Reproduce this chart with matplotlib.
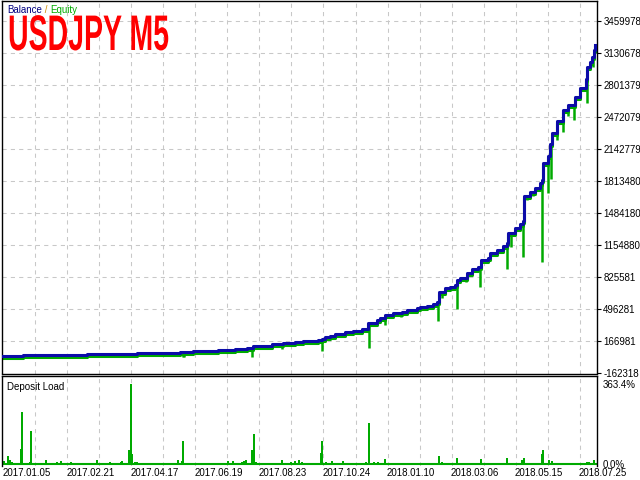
import numpy as np
import matplotlib
matplotlib.use('Agg')
import matplotlib.pyplot as plt
from matplotlib import patheffects
from matplotlib.transforms import Affine2D, offset_copy

# balance curve: trade index -> balance
bal_idx = [1, 21, 85, 135, 178, 191, 216, 233, 245, 251, 270, 281, 293, 301, 316, 320,
           323, 328, 333, 343, 351, 360, 366, 375, 378, 383, 391, 400, 405, 415, 418, 425,
           431, 435, 437, 443, 448, 453, 455, 458, 465, 470, 476, 479, 486, 488, 495, 501,
           505, 506, 513, 518, 521, 522, 528, 533, 538, 540, 541, 546, 548, 550, 555, 561,
           566, 573, 578, 584, 585, 588, 590, 592, 593]
bal_val = [12600, 22900, 33200, 43500, 53800, 64100, 74400, 84700, 94900, 115500, 136100,
           146400, 156700, 167000, 177300, 187600, 208100, 218400, 239000, 259600, 269900,
           290500, 352200, 383100, 403700, 434500, 455100, 465400, 486000, 506600, 516900,
           527200, 547700, 568300, 671200, 712400, 722700, 743300, 794700, 815300, 866700,
           907900, 928500, 1000500, 1021100, 1072600, 1103400, 1144600, 1175500, 1278400,
           1329800, 1371000, 1401900, 1659100, 1700300, 1741400, 1792900, 1823800, 1998700,
           2070700, 2194200, 2307400, 2430900, 2544100, 2595600, 2677900, 2770500, 2863100,
           2986600, 3038100, 3089500, 3161500, 3213000]

# equity drawdowns: trade index -> lowest equity
dd_idx = [28, 95, 128, 181, 182, 218, 226, 250, 280, 294, 298, 320, 333, 339, 367, 376,
          383, 399, 436, 440, 455, 464, 478, 486, 496, 505, 509, 521, 525, 531, 540, 546,
          549, 555, 561, 566, 572, 585, 591]
dd_low = [-8000, 2300, 2300, 2300, 2300, 55000, 63000, 2300, 84700, 125000, 132000, 64100,
          222000, 232000, 94900, 352000, 331600, 414000, 372800, 609500, 496300, 774100,
          722700, 979900, 1082800, 907900, 1134400, 1031400, 1618000, 1659100, 979900,
          1690000, 1834100, 2235400, 2317700, 2482400, 2441200, 2616100, 2986600]

# deposit load, %
load_idx = [2, 6, 8, 10, 19, 20, 28, 29, 44, 55, 59, 69, 80, 95, 108, 119, 120, 127, 129,
            130, 133, 135, 171, 176, 180, 181, 196, 200, 211, 219, 226, 231, 240, 242, 244,
            250, 252, 254, 280, 285, 289, 293, 297, 300, 319, 320, 324, 330, 341, 344, 358,
            364, 367, 372, 376, 383, 398, 406, 437, 440, 455, 464, 479, 486, 491, 497, 505,
            520, 522, 540, 541, 547, 550, 561, 572, 585, 587, 592]
load_pct = [14, 36, 18, 9, 68, 237, 9, 150, 18, 9, 14, 9, 5, 18, 9, 9, 14, 64, 363.4, 45,
            9, 9, 5, 18, 14, 106, 5, 5, 5, 5, 14, 14, 9, 14, 18, 64, 136, 9, 18, 5, 9, 14,
            18, 9, 50, 104, 9, 14, 14, 5, 5, 9, 188, 9, 9, 23, 5, 5, 36, 9, 27, 5, 23, 5, 5,
            5, 27, 18, 27, 45, 64, 18, 14, 5, 5, 9, 9, 18]

y_ticks = [-162318, 166981, 496281, 825581, 1154880, 1484180, 1813480, 2142779,
           2472079, 2801379, 3130678, 3459978]
date_idx = [1, 65, 129, 193, 257, 321, 385, 449, 513, 577]
date_labels = ['2017.01.05', '2017.02.21', '2017.04.17', '2017.06.19', '2017.08.23',
               '2017.10.24', '2018.01.10', '2018.03.06', '2018.05.15', '2018.07.25']

BLUE = '#0c0ca8'
GREEN = '#00aa00'
GRID = '#c8c8c8'
FONT = 'Liberation Sans'


class Squeeze(patheffects.AbstractPathEffect):
    # narrow the glyphs horizontally around the text origin
    def __init__(self, sx):
        super().__init__()
        self.sx = sx

    def draw_path(self, renderer, gc, tpath, affine, rgbFace=None):
        renderer.draw_path(gc, tpath, Affine2D().scale(self.sx, 1) + affine, rgbFace)


plt.rcParams['font.family'] = FONT
fig = plt.figure(figsize=(6.4, 4.8), dpi=100)
ax = fig.add_axes([2 / 640, 1 - 373.5 / 480, 595 / 640, 372.5 / 480])
ax2 = fig.add_axes([2 / 640, 1 - 465.5 / 480, 595 / 640, 90 / 480])

vgrid = np.arange(33, 595, 32.05)
for a in (ax, ax2):
    a.set_xlim(0, 595)
    for xg in vgrid:
        a.axvline(xg, color=GRID, lw=0.75, ls=(0, (4, 4)), zorder=0)
    for s in a.spines.values():
        s.set_color('black')
        s.set_linewidth(1.0)

# main panel
for yt in y_ticks[1:]:
    ax.axhline(yt, color=GRID, lw=0.75, ls=(0, (4, 4)), zorder=0)

bx = np.array(bal_idx)
bv = np.array(bal_val)
tops = bv[np.searchsorted(bx, dd_idx, side='right') - 1]
ax.vlines(dd_idx, dd_low, tops, color=GREEN, lw=1.8, zorder=2)
eq_trans = offset_copy(ax.transData, fig=fig, y=-1.6, units='dots')
ax.plot(bx, bv, drawstyle='steps-post', color=GREEN, lw=2.2, transform=eq_trans, zorder=2)
ax.plot(bx, bv, drawstyle='steps-post', color=BLUE, lw=2.2, zorder=3)

ax.set_ylim(-167463, 3665785)
ax.yaxis.tick_right()
ax.set_yticks(y_ticks)
ax.set_yticklabels([str(v) for v in y_ticks])
ax.tick_params(axis='y', length=3, width=0.8, pad=1.5, labelsize=7, colors='black')
ax.set_xticks([])

# legend line "Balance / Equity"
t1 = fig.text(7 / 640, 1 - 13 / 480, 'Balance', color='#000080', fontsize=7)
t2 = ax.annotate(' / ', xy=(1, 0), xycoords=t1, va='bottom', ha='left',
                 color='#d08a00', fontsize=7)
ax.annotate('Equity', xy=(1, 0), xycoords=t2, va='bottom', ha='left',
            color=GREEN, fontsize=7)

fig.text(8 / 640, 1 - 50 / 480, 'USDJPY M5', color='#ff0000', fontsize=36,
         fontweight='bold', family=FONT, va='baseline',
         path_effects=[Squeeze(0.57)])

# deposit load panel
ax2.bar(load_idx, load_pct, width=1.4, color=GREEN, zorder=2)
ax2.axhline(0, color=GREEN, lw=1.5, zorder=2)
ax2.set_ylim(-6.8, 402)
ax2.spines['bottom'].set_visible(False)
ax2.yaxis.tick_right()
ax2.set_yticks([363.4, 0])
ax2.set_yticklabels(['363.4%', '0.0%'])
ax2.tick_params(axis='y', length=0, pad=4, labelsize=7, colors='black')
ax2.set_xticks(date_idx)
ax2.set_xticklabels(date_labels, ha='left')
ax2.tick_params(axis='x', length=0, pad=1.5, labelsize=7, colors='black')
ax2.text(5 / 595, 0.93, 'Deposit Load', transform=ax2.transAxes, fontsize=7,
         va='top', ha='left')

fig.savefig('out.png', dpi=100)
